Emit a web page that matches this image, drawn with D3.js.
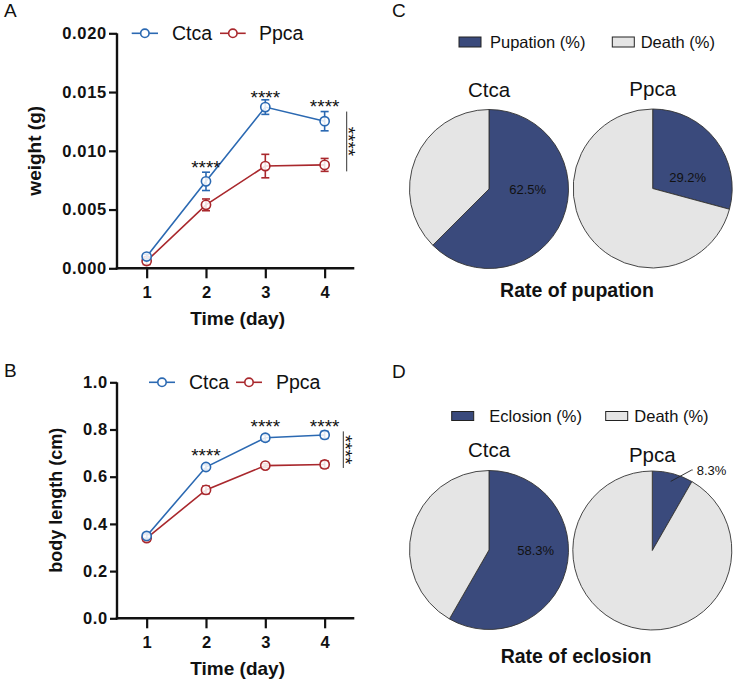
<!DOCTYPE html>
<html>
<head>
<meta charset="utf-8">
<script src="https://cdn.jsdelivr.net/npm/d3@7/dist/d3.min.js"></script>
<style>
  html, body { margin: 0; padding: 0; background: #fff; }
  svg { display: block; font-family: "Liberation Sans", Arial, sans-serif; }
</style>
</head>
<body>
<svg id="chart" width="733" height="681"></svg>
<script>
// ---------------- DATA ----------------
const days = [1, 2, 3, 4];
const seriesNames = ["Ctca", "Ppca"];

// Panel A: weight (g)
const weightCtca = [0.00100, 0.00740, 0.01372, 0.01252];
const weightCtcaErr = [0.00020, 0.00078, 0.00062, 0.00082];
const weightPpca = [0.00062, 0.00540, 0.00870, 0.00880];
const weightPpcaErr = [0.00030, 0.00050, 0.00100, 0.00055];
const weightTicks = [0, 0.005, 0.010, 0.015, 0.020];
const weightStarsY = [null, 0.00896, 0.01486, 0.01417];

// Panel B: body length (cm)
const lengthCtca = [0.349, 0.641, 0.765, 0.777];
const lengthCtcaErr = [0.010, 0.010, 0.013, 0.015];
const lengthPpca = [0.340, 0.544, 0.647, 0.652];
const lengthPpcaErr = [0.012, 0.016, 0.008, 0.015];
const lengthTicks = [0, 0.2, 0.4, 0.6, 0.8, 1.0];
const lengthStarsY = [null, 0.706, 0.830, 0.830];

const starText = "****";

// Panel C: pupation
const pupationCategories = ["Pupation (%)", "Death (%)"];
const pupationCtca = [62.5, 37.5];
const pupationPpca = [29.2, 70.8];

// Panel D: eclosion
const eclosionCategories = ["Eclosion (%)", "Death (%)"];
const eclosionCtca = [58.3, 41.7];
const eclosionPpca = [8.3, 91.7];

// ---------------- STYLE ----------------
const FONT = '"Liberation Sans", Arial, sans-serif';
const lineColors = { Ctca: "#2b69b2", Ppca: "#a9282d" };
const pieColors = ["#3a4a7c", "#e5e5e5"];
const axisColor = "#111";

const svg = d3.select("#chart");

// ---------------- LINE PANELS ----------------
function linePanel(cfg) {
  const g = svg.append("g");
  const x = d3.scaleLinear().domain([0.5, 4.5]).range([cfg.x0, cfg.x1]);
  const y = d3.scaleLinear().domain(cfg.yDomain).range([cfg.yBottom, cfg.yTop]);

  // y axis
  const yAxis = d3.axisLeft(y).tickValues(cfg.ticks).tickFormat(d3.format(cfg.fmt))
    .tickSizeOuter(0).tickSizeInner(cfg.yTick).tickPadding(cfg.yPad);
  const ya = g.append("g").attr("transform", `translate(${cfg.x0},0)`).call(yAxis);
  ya.select(".domain").attr("stroke", axisColor).attr("stroke-width", 2.4)
    .attr("d", `M0,${cfg.yBottom + 1.2}V${cfg.yTop}`);
  ya.selectAll(".tick line").attr("stroke", axisColor).attr("stroke-width", 2.2);
  ya.selectAll(".tick text").attr("fill", "#111").style("font-family", FONT)
    .style("font-size", "16.5px").style("font-weight", "bold").style("letter-spacing", "0.7px");

  // x axis
  const xAxis = d3.axisBottom(x).tickValues(days).tickFormat(d3.format("d"))
    .tickSizeOuter(0).tickSizeInner(10).tickPadding(8);
  const xa = g.append("g").attr("transform", `translate(0,${cfg.yBottom})`).call(xAxis);
  xa.select(".domain").attr("stroke", axisColor).attr("stroke-width", 2.4)
    .attr("d", `M${cfg.x0 - 1.2},0H${cfg.x1}`);
  xa.selectAll(".tick line").attr("stroke", axisColor).attr("stroke-width", 2.2);
  xa.selectAll(".tick text").attr("fill", "#111").style("font-family", FONT)
    .style("font-size", "16.5px").style("font-weight", "bold");

  // axis titles
  g.append("text").attr("x", (cfg.x0 + cfg.x1) / 2 + 2).attr("y", cfg.xTitleY)
    .attr("text-anchor", "middle").style("font-family", FONT).style("font-size", "19px")
    .style("font-weight", "bold").attr("fill", "#111").text("Time (day)");
  g.append("text")
    .attr("transform", `translate(${cfg.yTitleX},${(cfg.yTop + cfg.yBottom) / 2}) rotate(-90)`)
    .attr("text-anchor", "middle").style("font-family", FONT).style("font-size", cfg.yTitleSize + "px")
    .style("font-weight", "bold").attr("fill", "#111").text(cfg.yTitle);

  // panel letter
  g.append("text").attr("x", 4).attr("y", cfg.letterY).style("font-family", FONT)
    .style("font-size", "19px").attr("fill", "#111").text(cfg.letter);

  // series
  const series = [
    { name: "Ctca", v: cfg.ctca, e: cfg.ctcaErr },
    { name: "Ppca", v: cfg.ppca, e: cfg.ppcaErr }
  ];
  const line = d3.line().x((d, i) => x(days[i])).y(d => y(d));
  [series[1], series[0]].forEach(s => {
    const col = lineColors[s.name];
    const sg = g.append("g");
    sg.append("path").attr("d", line(s.v)).attr("fill", "none")
      .attr("stroke", col).attr("stroke-width", 1.6);
    s.v.forEach((v, i) => {
      const cx = x(days[i]);
      const yt = y(v + s.e[i]), yb = y(v - s.e[i]);
      sg.append("line").attr("x1", cx).attr("x2", cx).attr("y1", yt).attr("y2", yb)
        .attr("stroke", col).attr("stroke-width", 1.6);
      [yt, yb].forEach(yy => sg.append("line").attr("x1", cx - 4).attr("x2", cx + 4)
        .attr("y1", yy).attr("y2", yy).attr("stroke", col).attr("stroke-width", 1.6));
      sg.append("circle").attr("cx", cx).attr("cy", y(v)).attr("r", 4.6)
        .attr("fill", "#fff").attr("fill-opacity", 0.85).attr("stroke", col).attr("stroke-width", 1.6);
    });
  });

  // significance stars
  cfg.stars.forEach((sv, i) => {
    if (sv === null) return;
    g.append("text").attr("x", x(days[i])).attr("y", y(sv) + 10.8)
      .attr("text-anchor", "middle").style("font-family", FONT).style("font-size", "19px")
      .attr("fill", "#111").text(starText);
  });

  // bracket between groups at day 4
  const i4 = 3;
  const bTop = y(cfg.ctca[i4] + cfg.ctcaErr[i4]);
  const bBot = y(cfg.ppca[i4] - cfg.ppcaErr[i4]);
  g.append("line").attr("x1", cfg.bracketX).attr("x2", cfg.bracketX)
    .attr("y1", bTop).attr("y2", bBot).attr("stroke", "#333").attr("stroke-width", 1);
  g.append("text")
    .attr("transform", `translate(${cfg.bracketX + 6.5},${(bTop + bBot) / 2}) rotate(90)`)
    .attr("x", 0).attr("y", 10.8).attr("text-anchor", "middle")
    .style("font-family", FONT).style("font-size", "19px").attr("fill", "#111").text(starText);

  // legend
  const lg = g.append("g");
  cfg.legend.forEach((L, k) => {
    const col = lineColors[seriesNames[k]];
    lg.append("line").attr("x1", L.lx0).attr("x2", L.lx1).attr("y1", cfg.yTop).attr("y2", cfg.yTop)
      .attr("stroke", col).attr("stroke-width", 1.6);
    lg.append("circle").attr("cx", (L.lx0 + L.lx1) / 2).attr("cy", cfg.yTop).attr("r", 4.2)
      .attr("fill", "#fff").attr("stroke", col).attr("stroke-width", 1.6);
    lg.append("text").attr("x", L.tx).attr("y", cfg.yTop + 7).style("font-family", FONT)
      .style("font-size", "19.5px").attr("fill", "#111").text(seriesNames[k]);
  });
}

linePanel({
  letter: "A", letterY: 17,
  x0: 117, x1: 354.3, yTop: 33.3, yBottom: 268.3,
  yDomain: [0, 0.02], ticks: weightTicks, fmt: ".3f", yTick: 8, yPad: 2,
  ctca: weightCtca, ctcaErr: weightCtcaErr, ppca: weightPpca, ppcaErr: weightPpcaErr,
  stars: weightStarsY, bracketX: 346.7,
  xTitleY: 325, yTitleX: 41, yTitle: "weight (g)", yTitleSize: 19,
  legend: [{ lx0: 131.7, lx1: 158, tx: 172 }, { lx0: 220, lx1: 245.7, tx: 259 }]
});

linePanel({
  letter: "B", letterY: 376.5,
  x0: 117, x1: 354.3, yTop: 382.3, yBottom: 618.3,
  yDomain: [0, 1], ticks: lengthTicks, fmt: ".1f", yTick: 7, yPad: 2,
  ctca: lengthCtca, ctcaErr: lengthCtcaErr, ppca: lengthPpca, ppcaErr: lengthPpcaErr,
  stars: lengthStarsY, bracketX: 343.3,
  xTitleY: 675, yTitleX: 62, yTitle: "body length (cm)", yTitleSize: 18,
  legend: [{ lx0: 149, lx1: 175, tx: 189 }, { lx0: 236, lx1: 262, tx: 276 }]
});

// ---------------- PIE PANELS ----------------
const pie = d3.pie().sort(null).value(d => d).startAngle(0).endAngle(2 * Math.PI);
const R = 79.5;
const arc = d3.arc().innerRadius(0).outerRadius(R);

function piePanel(cfg) {
  const g = svg.append("g");
  g.append("text").attr("x", 392).attr("y", cfg.letterY).style("font-family", FONT)
    .style("font-size", "19px").attr("fill", "#111").text(cfg.letter);

  cfg.categories.forEach((c, k) => {
    const L = cfg.legend[k];
    g.append("rect").attr("x", L.rx).attr("y", cfg.legY - L.rh / 2).attr("width", 22).attr("height", L.rh)
      .attr("fill", pieColors[k]).attr("stroke", "#222").attr("stroke-width", 1);
    g.append("text").attr("x", L.tx).attr("y", cfg.legY + 6).style("font-family", FONT)
      .style("font-size", "16.5px").attr("fill", "#111").text(c);
  });

  cfg.pies.forEach(P => {
    const pg = g.append("g").attr("transform", `translate(${P.cx},${P.cy})`);
    pg.selectAll("path").data(pie(P.values)).join("path")
      .attr("d", arc).attr("fill", (d, i) => pieColors[i])
      .attr("stroke", "#333").attr("stroke-width", 0.9);
    g.append("text").attr("x", P.cx).attr("y", P.titleY).attr("text-anchor", "middle")
      .style("font-family", FONT).style("font-size", "20.5px").attr("fill", "#111").text(P.name);
    const lbl = P.values[0].toFixed(1) + "%";
    if (P.leader) {
      const a0 = pie(P.values)[0];
      const mid = (a0.startAngle + a0.endAngle) / 2;
      const r1 = R * 0.9;
      const sx = Math.sin(mid) * r1, sy = -Math.cos(mid) * r1;
      pg.append("polyline")
        .attr("points", `${sx},${sy} ${P.leader.ex},${P.leader.ey} ${P.leader.ex + 1},${P.leader.ey}`)
        .attr("fill", "none").attr("stroke", "#222").attr("stroke-width", 0.9);
      pg.append("text").attr("x", P.leader.ex + 5).attr("y", P.leader.ey + 4.7)
        .style("font-family", FONT).style("font-size", "13px").attr("fill", "#111").text(lbl);
    } else {
      pg.append("text").attr("x", P.lx).attr("y", P.ly + 4.7).attr("text-anchor", "middle")
        .style("font-family", FONT).style("font-size", "13px").attr("fill", "#111").text(lbl);
    }
  });

  g.append("text").attr("x", cfg.titleX).attr("y", cfg.titleY).attr("text-anchor", "middle")
    .style("font-family", FONT).style("font-size", "19.5px").style("font-weight", "bold")
    .attr("fill", "#111").text(cfg.title);
}

piePanel({
  letter: "C", letterY: 17,
  categories: pupationCategories, legY: 42,
  legend: [{ rx: 459, tx: 490, rh: 10 }, { rx: 612.3, tx: 640.7, rh: 10 }],
  pies: [
    { name: "Ctca", values: pupationCtca, cx: 489, cy: 189, titleY: 97, lx: 38.7, ly: 0 },
    { name: "Ppca", values: pupationPpca, cx: 652.7, cy: 188.5, titleY: 96, lx: 35, ly: -11.6 }
  ],
  title: "Rate of pupation", titleX: 577, titleY: 297
});

piePanel({
  letter: "D", letterY: 377.5,
  categories: eclosionCategories, legY: 416,
  legend: [{ rx: 451.7, tx: 489.3, rh: 9 }, { rx: 605.7, tx: 634.3, rh: 9 }],
  pies: [
    { name: "Ctca", values: eclosionCtca, cx: 489, cy: 550, titleY: 456.7, lx: 46.7, ly: 0 },
    { name: "Ppca", values: eclosionPpca, cx: 652.3, cy: 550.5, titleY: 462.3,
      leader: { ex: 39.4, ey: -80.5 } }
  ],
  title: "Rate of eclosion", titleX: 576, titleY: 663
});
</script>
</body>
</html>
